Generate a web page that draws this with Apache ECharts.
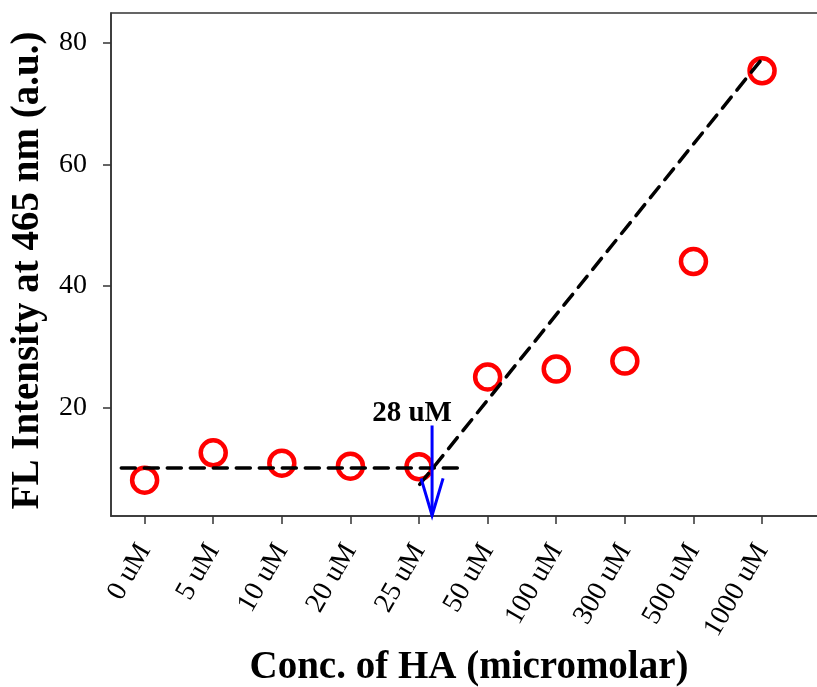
<!DOCTYPE html>
<html>
<head>
<meta charset="utf-8">
<script src="https://cdn.jsdelivr.net/npm/echarts@6/dist/echarts.min.js"></script>
<style>
  html, body { margin: 0; padding: 0; background: #fff; }
  #main { width: 817px; height: 687px; }
</style>
</head>
<body>
<div id="main"></div>
<script>
// categories on x (HA concentration)
var categories = ['0 uM', '5 uM', '10 uM', '20 uM', '25 uM', '50 uM', '100 uM', '300 uM', '500 uM', '1000 uM'];
// FL intensity
var intensity = [8.0, 12.5, 10.8, 10.3, 10.2, 25.0, 26.3, 27.6, 44.0, 75.4];
var yTicks = [20, 40, 60, 80];
// two fitted dashed lines [x index, value]
var flatFit = [[-0.34, 10.0], [4.64, 10.0]];
var riseFit = [[4.01, 7.3], [9.01, 77.5]];
// arrow marking the break point
var arrowX = 4.19, arrowTop = 17.0, arrowTip = 2.2;
var arrowText = '28 uM';

var serif = 'Liberation Serif';
var chart = echarts.init(document.getElementById('main'));

var pts = intensity.map(function (v, i) { return [i, v]; });
var catIdx = categories.map(function (c, i) { return i; });

var option = {
  backgroundColor: '#fff',
  animation: false,
  grid: {
    left: 111, right: -2, top: 13, bottom: 171,
    outerBoundsMode: 'none',
    containLabel: false,
    show: true, borderColor: '#333', borderWidth: 1.5
  },
  xAxis: {
    type: 'value',
    min: -0.49, max: 9.83,
    name: 'Conc. of HA (micromolar)',
    nameLocation: 'middle',
    nameGap: 128,
    nameTextStyle: { fontFamily: serif, fontWeight: 'bold', fontSize: 39, color: '#000', padding: [0, 0, 0, 8] },
    axisLine: { show: true, onZero: false, lineStyle: { color: '#333', width: 1.5 } },
    axisTick: { show: true, length: 8, customValues: catIdx, lineStyle: { color: '#333', width: 1.5 } },
    axisLabel: {
      customValues: catIdx,
      rotate: 60, margin: 30,
      fontFamily: serif, fontSize: 28, color: '#000',
      formatter: function (v) { return categories[Math.round(v)]; }
    },
    splitLine: { show: false }
  },
  yAxis: {
    type: 'value',
    min: 2.1, max: 84.9,
    name: 'FL Intensity at 465 nm (a.u.)',
    nameLocation: 'middle',
    nameGap: 64,
    nameTextStyle: { fontFamily: serif, fontWeight: 'bold', fontSize: 39, color: '#000', padding: [0, 12, 0, 0] },
    axisLine: { show: true, onZero: false, lineStyle: { color: '#333', width: 1.5 } },
    axisTick: { show: true, length: 8, customValues: yTicks, lineStyle: { color: '#333', width: 1.5 } },
    axisLabel: {
      customValues: yTicks, margin: 24,
      fontFamily: serif, fontSize: 28, color: '#000'
    },
    splitLine: { show: false }
  },
  series: [
    {
      type: 'line',
      data: flatFit,
      symbol: 'none',
      lineStyle: { color: '#000', width: 3.5, type: [14, 9], cap: 'round' },
      z: 3
    },
    {
      type: 'line',
      data: riseFit,
      symbol: 'none',
      lineStyle: { color: '#000', width: 3.5, type: [14, 9], cap: 'round' },
      z: 3
    },
    {
      type: 'scatter',
      data: pts,
      symbol: 'circle',
      symbolSize: 25,
      itemStyle: { color: 'rgba(0,0,0,0)', borderColor: '#ff0000', borderWidth: 4.5, opacity: 1 },
      z: 2
    },
    {
      type: 'custom',
      data: [[arrowX, arrowTop, arrowTip]],
      z: 5,
      renderItem: function (params, api) {
        var top = api.coord([api.value(0), api.value(1)]);
        var tip = api.coord([api.value(0), api.value(2)]);
        return {
          type: 'group',
          children: [
            { type: 'line', shape: { x1: top[0], y1: top[1], x2: tip[0], y2: tip[1] },
              style: { stroke: '#0000ff', lineWidth: 3 } },
            { type: 'polyline', shape: { points: [[tip[0] - 11, tip[1] - 37], [tip[0], tip[1]], [tip[0] + 11, tip[1] - 37]] },
              style: { stroke: '#0000ff', lineWidth: 3, fill: null } },
            { type: 'text', x: top[0] - 20, y: top[1] - 12,
              style: { text: arrowText, fontFamily: serif, fontWeight: 'bold', fontSize: 29,
                       fill: '#000', align: 'center', verticalAlign: 'middle' } }
          ]
        };
      }
    }
  ]
};

chart.setOption(option);
</script>
</body>
</html>
